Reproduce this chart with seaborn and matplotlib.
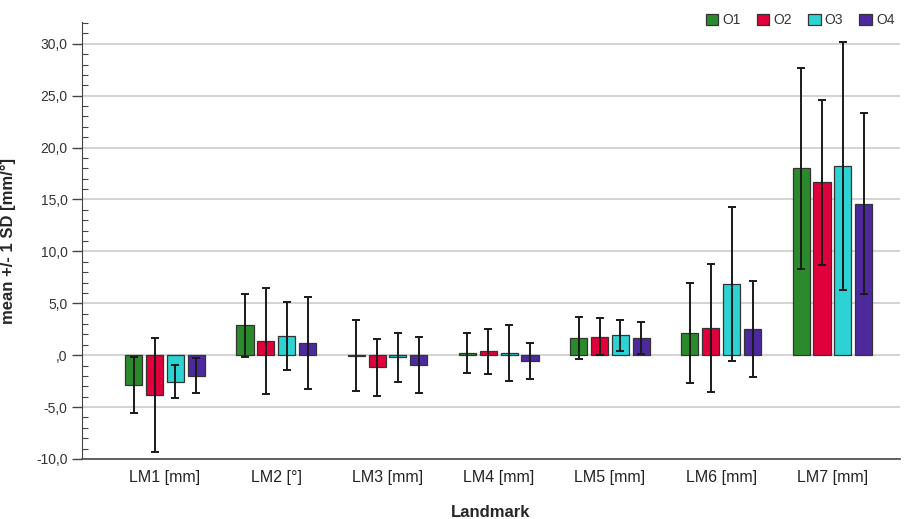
import numpy as np
import pandas as pd
import matplotlib
matplotlib.use("Agg")
import matplotlib.pyplot as plt
import seaborn as sns
from matplotlib.ticker import MultipleLocator, FixedLocator, FuncFormatter
from matplotlib.patches import Patch

landmarks = ["LM1 [mm]", "LM2 [°]", "LM3 [mm]", "LM4 [mm]", "LM5 [mm]", "LM6 [mm]", "LM7 [mm]"]
groups = ["O1", "O2", "O3", "O4"]

mean_o1 = [-2.9, 2.87, -0.03, 0.23, 1.64, 2.13, 18.0]
mean_o2 = [-3.83, 1.38, -1.16, 0.37, 1.80, 2.61, 16.65]
mean_o3 = [-2.54, 1.87, -0.22, 0.25, 1.93, 6.86, 18.26]
mean_o4 = [-1.96, 1.16, -0.95, -0.57, 1.64, 2.54, 14.6]

sd_o1 = [2.7, 3.05, 3.4, 1.9, 2.0, 4.8, 9.7]
sd_o2 = [5.5, 5.1, 2.74, 2.14, 1.8, 6.2, 7.95]
sd_o3 = [1.56, 3.3, 2.35, 2.7, 1.5, 7.4, 11.95]
sd_o4 = [1.7, 4.46, 2.72, 1.75, 1.55, 4.6, 8.7]

colors = ["#2b8a2b", "#e0003b", "#2dd3d3", "#4c2a9e"]

means = [mean_o1, mean_o2, mean_o3, mean_o4]
sds = [sd_o1, sd_o2, sd_o3, sd_o4]
rows = []
for g, m, s in zip(groups, means, sds):
    for lm, mv, sv in zip(landmarks, m, s):
        rows.append({"Landmark": lm, "Group": g, "mean": mv, "sd": sv})
df = pd.DataFrame(rows)

sns.set_style("white")
plt.rcParams["font.family"] = ["Liberation Sans", "DejaVu Sans"]

fig = plt.figure(figsize=(9.07, 5.19), dpi=100)
ax = fig.add_axes([82 / 907, 60 / 519, (900 - 82) / 907, (459 - 22) / 519])

sns.barplot(data=df, x="Landmark", y="mean", hue="Group", order=landmarks,
            hue_order=groups, palette=colors, saturation=1, errorbar=None,
            width=0.75, gap=0.18, edgecolor="#333333", linewidth=0.9, ax=ax,
            zorder=3, legend=False)

for cont, s in zip(ax.containers, sds):
    xs = [p.get_x() + p.get_width() / 2 for p in cont.patches]
    ys = [p.get_y() + p.get_height() for p in cont.patches]
    ax.errorbar(xs, ys, yerr=s, fmt="none", ecolor="#1a1a1a", elinewidth=1.4,
                capsize=3, capthick=1.4, zorder=4)

ax.set_xlim(-0.746, 6.607)
ax.set_ylim(-10, 32.1)
ax.yaxis.set_major_locator(FixedLocator([-10, -5, 0, 5, 10, 15, 20, 25, 30]))
ax.yaxis.set_minor_locator(MultipleLocator(1))

def fmt(v, pos):
    if abs(v) < 1e-9:
        return ",0"
    return f"{v:.1f}".replace(".", ",")

ax.yaxis.set_major_formatter(FuncFormatter(fmt))
ax.grid(axis="y", color="#c8c8c8", linewidth=1.1, zorder=0)
ax.set_axisbelow(True)
for sp in ["top", "right"]:
    ax.spines[sp].set_visible(False)
ax.spines["left"].set_color("#444444")
ax.spines["bottom"].set_color("#555555")
ax.spines["bottom"].set_linewidth(1.3)
ax.tick_params(axis="y", which="major", length=7, width=1, color="#444444",
               labelsize=10, labelcolor="#333333", direction="out", left=True)
ax.tick_params(axis="y", which="minor", length=4, width=0.8, color="#444444",
               direction="in", left=True)
ax.tick_params(axis="x", length=0, labelsize=11.5, labelcolor="#222222", pad=8)

ax.set_xlabel("Landmark", fontsize=12, fontweight="bold", labelpad=14)
ax.set_ylabel("mean +/- 1 SD [mm/°]", fontsize=12, fontweight="bold", labelpad=14)

handles = [Patch(facecolor=c, edgecolor="#333333", linewidth=0.9) for c in colors]
fig.legend(handles, groups, loc="center right", bbox_to_anchor=(1.0, 0.961),
           ncol=4, frameon=False, fontsize=10, handlelength=0.9, handleheight=0.9,
           handletextpad=0.3, columnspacing=1.15, labelcolor="#333333")

fig.savefig("out.png", dpi=100)
